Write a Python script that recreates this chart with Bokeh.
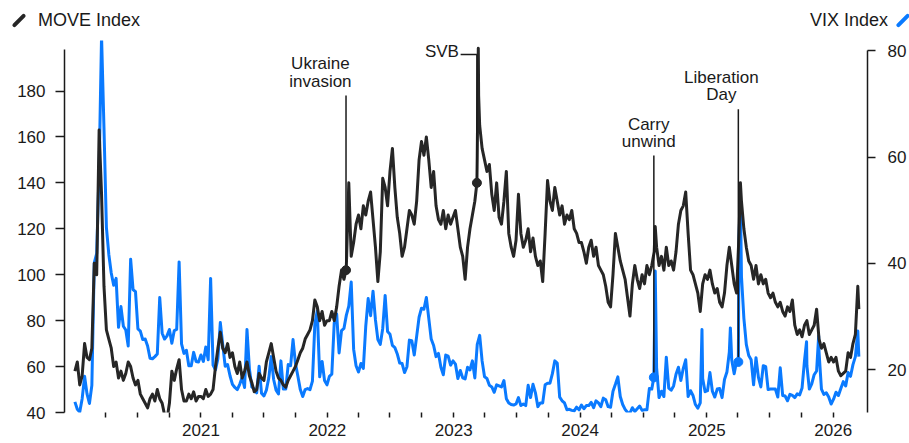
import datetime as dt
import pandas as pd
from bokeh.plotting import figure
from bokeh.layouts import column
from bokeh.models import (Range1d, LinearAxis, FixedTicker, CustomJSTickFormatter, Label, Div)
from bokeh.embed import file_html
from bokeh.resources import INLINE

FONT = "Liberation Sans"
INK = "#1a1a1a"
MOVE_COLOR = "#262626"
VIX_COLOR = "#0a7aff"

# ---------------- data (weekly readings, Friday closes) ----------------
week_start = {2020: "2020-01-03", 2021: "2021-01-01", 2022: "2022-01-07", 2023: "2023-01-06",
              2024: "2024-01-05", 2025: "2025-01-03", 2026: "2026-01-02"}

move_2020 = [58, 62, 52, 56, 70, 64, 63, 68, 105, 100, 163, 135, 95, 76, 72, 68, 60, 62, 55, 58,
             54, 57, 62, 60, 55, 52, 54, 48, 46, 44, 42, 46, 48, 45, 50, 46, 44, 39, 37, 44,
             58, 54, 59, 63, 50, 45, 45, 48, 46, 49, 45, 47]
move_2021 = [47, 46, 50, 47, 48, 50, 60, 68, 75, 68, 66, 70, 64, 66, 60, 57, 62, 55, 58, 62,
             56, 53, 49, 50, 57, 55, 54, 62, 66, 70, 64, 58, 55, 54, 52, 51, 54, 56, 58, 60,
             63, 66, 68, 72, 74, 76, 80, 89, 86, 80, 84, 78, 80]
move_2022 = [80, 84, 80, 86, 95, 102, 98, 104, 140, 108, 114, 122, 126, 120, 130, 126, 132, 136, 124, 112,
             97, 110, 142, 138, 130, 145, 155, 138, 125, 118, 108, 112, 120, 128, 126, 122, 132, 150, 158, 152,
             160, 150, 138, 145, 130, 124, 122, 128, 120, 126, 122, 125]
move_2023 = [128, 120, 112, 108, 98, 112, 120, 126, 132, 152, 165, 155, 150, 145, 148, 135, 128, 140, 125, 122,
             132, 145, 118, 112, 108, 115, 135, 118, 112, 115, 120, 110, 116, 108, 104, 106, 97, 118, 141, 132,
             128, 138, 132, 126, 130, 122, 126, 124, 128, 120, 118, 114]
move_2024 = [114, 110, 105, 112, 115, 108, 112, 104, 102, 100, 95, 88, 86, 100, 118, 112, 106, 102, 98, 90,
             82, 96, 104, 98, 94, 100, 96, 104, 100, 104, 110, 112, 104, 108, 102, 112, 104, 106, 102, 110,
             122, 128, 130, 136, 118, 102, 100, 96, 92, 84, 96, 100]
move_2025 = [98, 102, 96, 92, 94, 88, 86, 92, 104, 112, 104, 96, 92, 118, 132, 120, 112, 106, 104, 98,
             104, 96, 100, 96, 98, 92, 90, 92, 88, 86, 88, 84, 82, 86, 84, 89, 78, 74, 76, 73,
             78, 80, 74, 76, 78, 85, 72, 68, 70, 66, 62, 64]
move_2026 = [62, 64, 58, 56, 57, 58, 66, 64, 70, 74, 95]
move_extra_dates = ["2022-02-24", "2023-03-09", "2023-03-13", "2023-03-14", "2024-08-05",
                    "2025-04-08", "2026-03-16"]
move_extra_values = [102, 140, 198.6, 178, 121, 140, 85]

vix_2020 = [14.0, 12.6, 12.1, 14.6, 18.8, 15.5, 13.7, 17.1, 40.1, 41.9, 57.8, 82.7, 65.5, 46.8, 41.7, 38.2,
            35.9, 37.2, 28.0, 31.9, 28.2, 27.5, 24.5, 40.8, 35.1, 34.7, 27.7, 27.3, 25.7, 25.8, 24.5, 22.2,
            22.1, 22.5, 23.0, 33.6, 26.9, 25.8, 26.4, 27.6, 25.0, 27.4, 27.6, 40.3, 24.9, 23.1, 23.7, 20.8,
            20.8, 23.3, 21.6, 21.5]
vix_2021 = [22.8, 21.6, 24.3, 21.9, 37.2, 20.9, 20.0, 22.1, 28.9, 24.7, 20.7, 21.0, 18.9, 17.3, 16.7, 16.3,
            17.3, 18.6, 16.7, 27.6, 20.2, 16.8, 16.4, 15.7, 20.7, 15.6, 15.1, 16.2, 18.5, 22.5, 18.2, 16.2,
            15.5, 21.7, 16.4, 16.4, 21.0, 20.8, 25.7, 21.2, 18.8, 16.3, 15.0, 16.3, 16.5, 16.3, 17.9, 28.6,
            31.1, 18.7, 21.6, 18.0, 17.2]
vix_2022 = [18.8, 19.2, 28.9, 30.5, 23.2, 27.4, 27.8, 30.3, 32.0, 36.5, 23.9, 20.8, 19.6, 21.2, 20.3, 28.2,
            33.4, 30.2, 34.8, 29.4, 25.7, 24.8, 27.8, 34.0, 27.2, 26.7, 24.6, 24.2, 23.0, 21.3, 21.2, 19.5,
            20.6, 25.6, 25.5, 22.8, 26.3, 29.9, 31.6, 31.4, 33.6, 29.7, 25.8, 24.6, 22.5, 23.1, 20.5, 19.1,
            22.8, 22.6, 20.9, 21.7]
vix_2023 = [21.1, 18.4, 19.9, 18.5, 18.3, 20.5, 20.0, 21.7, 18.5, 24.8, 26.5, 21.7, 18.7, 18.4, 17.1, 16.8,
            15.8, 17.2, 17.0, 16.8, 18.0, 14.6, 13.8, 13.5, 13.4, 13.6, 14.8, 13.3, 13.6, 13.3, 17.1, 14.8,
            17.3, 15.7, 13.1, 13.8, 13.8, 17.2, 17.5, 17.5, 19.3, 21.7, 21.3, 14.9, 14.2, 13.8, 12.5, 12.6,
            12.4, 12.3, 13.0, 12.5]
vix_2024 = [13.4, 12.7, 13.3, 13.3, 13.9, 12.9, 14.2, 13.8, 13.1, 14.7, 14.4, 13.1, 13.0, 16.0, 17.3, 18.7,
            15.0, 13.5, 12.6, 12.0, 11.9, 12.9, 12.2, 12.7, 13.2, 12.4, 12.5, 12.5, 16.5, 16.4, 23.4, 20.4,
            14.8, 16.0, 15.0, 22.4, 16.6, 16.2, 17.0, 19.2, 20.5, 18.0, 20.3, 21.9, 15.0, 16.1, 15.2, 13.5,
            12.8, 13.8, 18.4, 15.9]
vix_2025 = [16.1, 19.5, 16.0, 14.9, 16.4, 16.5, 14.8, 18.2, 19.6, 23.4, 21.8, 19.3, 21.7, 45.3, 37.6, 29.7,
            24.8, 22.7, 21.9, 17.2, 22.3, 18.6, 16.8, 20.8, 20.6, 16.3, 16.4, 16.4, 16.4, 14.9, 20.4, 15.2,
            15.1, 14.2, 15.4, 15.2, 14.8, 15.5, 15.3, 16.6, 21.7, 20.8, 16.4, 17.4, 19.1, 19.8, 23.4, 16.4,
            15.4, 15.7, 14.9, 13.6]
vix_2026 = [14.5, 15.8, 15.2, 16.5, 17.8, 17.0, 19.5, 18.8, 21.0, 22.5, 27.3]
vix_extra_dates = ["2024-08-01", "2024-08-05", "2024-12-18", "2025-03-10", "2025-04-02", "2025-04-08",
                   "2025-10-16", "2025-11-20", "2026-03-16"]
vix_extra_values = [18.6, 38.6, 27.6, 27.9, 21.5, 52.3, 25.3, 26.4, 22.5]

# events: name lines, date, series, dot value
event_lines = [["Ukraine", "invasion"], ["SVB"], ["Carry", "unwind"], ["Liberation", "Day"]]
event_dates = ["2022-02-24", "2023-03-09", "2024-08-01", "2025-04-02"]
event_series = ["move", "move", "vix", "vix"]
event_values = [102, 140, 18.6, 21.5]

move_ticks = [40, 60, 80, 100, 120, 140, 160, 180]
vix_ticks = [20, 40, 60, 80]
series_names = ["MOVE Index", "VIX Index"]


def build(weekly, extra_dates, extra_values):
    parts = []
    for yr, vals in weekly.items():
        idx = pd.date_range(week_start[yr], periods=len(vals), freq="7D")
        parts.append(pd.Series(vals, index=idx, dtype=float))
    parts.append(pd.Series(extra_values, index=pd.to_datetime(extra_dates), dtype=float))
    s = pd.concat(parts)
    s = s[~s.index.duplicated(keep="last")].sort_index()
    return s.index, s.values


move_x, move_y = build({2020: move_2020, 2021: move_2021, 2022: move_2022, 2023: move_2023,
                        2024: move_2024, 2025: move_2025, 2026: move_2026},
                       move_extra_dates, move_extra_values)
vix_x, vix_y = build({2020: vix_2020, 2021: vix_2021, 2022: vix_2022, 2023: vix_2023,
                      2024: vix_2024, 2025: vix_2025, 2026: vix_2026},
                     vix_extra_dates, vix_extra_values)


def ms(d):
    return pd.Timestamp(d).value / 1e6


# ---------------- figure ----------------
p = figure(width=909, height=411, x_axis_type="datetime", output_backend="svg",
           toolbar_location=None,
           x_range=Range1d(dt.datetime(2019, 12, 4), dt.datetime(2026, 4, 10)),
           y_range=Range1d(40, 202),
           min_border_left=64, min_border_right=40, min_border_top=8, min_border_bottom=31)
p.extra_y_ranges = {"vix": Range1d(12, 81.9)}
p.xgrid.grid_line_color = None
p.ygrid.grid_line_color = None
p.outline_line_color = None
p.background_fill_color = "white"
p.border_fill_color = "white"

# left axis (MOVE)
ya = p.yaxis[0]
ya.ticker = FixedTicker(ticks=move_ticks)
ya.bounds = (40, 198)
ya.axis_line_color = INK
ya.axis_line_width = 1.5
ya.major_tick_line_color = INK
ya.major_tick_line_width = 1.5
ya.major_tick_out = 9
ya.major_tick_in = 0
ya.minor_tick_line_color = None
ya.major_label_standoff = 10
ya.major_label_text_font = FONT
ya.major_label_text_font_size = "17px"
ya.major_label_text_color = INK

# right axis (VIX)
ra = LinearAxis(y_range_name="vix", ticker=FixedTicker(ticks=vix_ticks), bounds=(12, 80))
ra.axis_line_color = INK
ra.axis_line_width = 1.5
ra.major_tick_line_color = INK
ra.major_tick_line_width = 1.5
ra.major_tick_out = 8
ra.major_tick_in = 0
ra.minor_tick_line_color = None
ra.major_label_standoff = 12
ra.major_label_text_font = FONT
ra.major_label_text_font_size = "17px"
ra.major_label_text_color = INK
p.add_layout(ra, "right")

# bottom axis (quarters, labelled at years)
quarter_ticks = [ms(d) for d in pd.date_range("2020-04-01", "2026-01-01", freq="QS")]
xa = p.xaxis[0]
xa.ticker = FixedTicker(ticks=quarter_ticks)
xa.formatter = CustomJSTickFormatter(code="""
    const d = new Date(tick);
    return d.getUTCMonth() === 0 ? String(d.getUTCFullYear()) : "";
""")
xa.axis_line_color = None
xa.major_tick_line_color = INK
xa.major_tick_line_width = 1.5
xa.major_tick_out = 5
xa.major_tick_in = 0
xa.minor_tick_line_color = None
xa.major_label_standoff = 6
xa.axis_label_standoff = 0
xa.major_label_text_font = FONT
xa.major_label_text_font_size = "17px"
xa.major_label_text_color = INK

# series
p.line(vix_x, vix_y, y_range_name="vix", line_color=VIX_COLOR, line_width=3, line_join="round")
p.line(move_x, move_y, line_color=MOVE_COLOR, line_width=3, line_join="round")

# ---------------- event annotations ----------------
label_x = ["2021-12-12", "2023-01-16", "2024-07-17", "2025-02-12"]
label_baselines = [[192.2, 184.0], [197.0], [165.6, 157.8], [185.7, 178.3]]
line_tops = [178.1, 195.9, 60.3, 69.0]
svb_connector_start = "2023-01-21"

for lines, lx, bases, d, ser, val, top in zip(event_lines, label_x, label_baselines, event_dates,
                                              event_series, event_values, line_tops):
    rng = "vix" if ser == "vix" else "default"
    col = VIX_COLOR if ser == "vix" else MOVE_COLOR
    p.segment(x0=[pd.Timestamp(d)], y0=[val], x1=[pd.Timestamp(d)], y1=[top],
              y_range_name=rng, line_color=INK, line_width=1.5)
    p.scatter([pd.Timestamp(d)], [val], y_range_name=rng, size=9, color=col)
    align = "right" if len(lines) == 1 else "center"
    for txt, b in zip(lines, bases):
        p.add_layout(Label(x=ms(lx), y=b, text=txt, text_align=align, text_baseline="alphabetic",
                           text_font=FONT, text_font_size="17px", text_color=INK))

p.segment(x0=[pd.Timestamp(svb_connector_start)], y0=[line_tops[1]],
          x1=[pd.Timestamp(event_dates[1])], y1=[line_tops[1]], line_color=INK, line_width=1.5)

# ---------------- legend header ----------------
slash = ("position:absolute;top:12px;width:4px;height:17px;border-radius:2px;"
         "transform:rotate(45deg);")
text_css = (f"position:absolute;top:10px;font-family:'{FONT}';font-size:18px;"
            f"line-height:20px;color:{INK};white-space:nowrap;")
legend_html = (
    '<div style="position:relative;width:909px;height:32px;overflow:hidden;">'
    f'<span style="{slash}left:17px;background:{MOVE_COLOR};"></span>'
    f'<span style="{text_css}left:38px;">{series_names[0]}</span>'
    f'<span style="{text_css}right:21px;">{series_names[1]}</span>'
    f'<span style="{slash}left:901px;background:{VIX_COLOR};"></span>'
    '</div>'
)
header = Div(text=legend_html, width=909, height=32, margin=(0, 0, 0, 0))

layout = column(header, p, spacing=0)
open("out.html", "w").write(file_html(layout, INLINE))
